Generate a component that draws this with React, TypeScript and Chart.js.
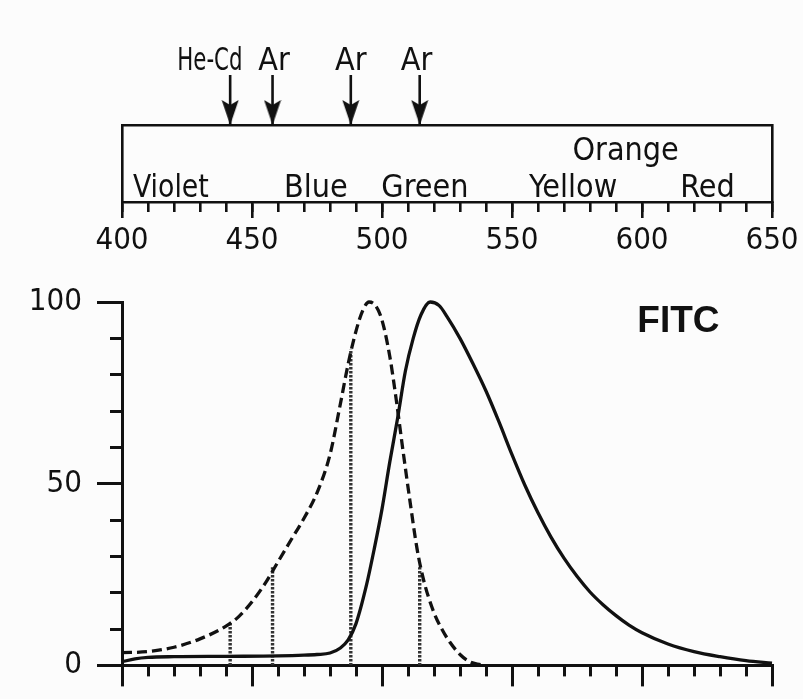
import React, { useEffect, useRef } from "react";
import { Chart, registerables } from "chart.js";

Chart.register(...registerables);

// ---------- data ----------
const wavelengthMin = 400;
const wavelengthMax = 650;
const majorWavelengthTicks = [400, 450, 500, 550, 600, 650];
const minorWavelengthTicks = [
  400, 410, 420, 430, 440, 450, 460, 470, 480, 490, 500, 510, 520, 530, 540,
  550, 560, 570, 580, 590, 600, 610, 620, 630, 640, 650,
];
const intensityMajorTicks = [0, 50, 100];
const intensityMinorTicks = [0, 10, 20, 30, 40, 50, 60, 70, 80, 90, 100];

const excitationWavelengths = [
  400, 410, 420, 430, 440, 445, 450, 455, 460, 465, 470, 475, 480, 484, 487,
  490, 492.5, 495, 497.5, 500, 503, 505.5, 508, 511, 513.5, 516, 520, 523, 526,
  530, 534, 538,
];
const excitationValues = [
  3.5, 3.8, 5, 7.3, 10.8, 13.5, 17.5, 22.5, 28.5, 34.5, 40.5, 47.5, 58, 72, 83,
  92, 97.5, 100, 99, 95, 85, 73, 59.5, 44, 32, 23.5, 14.5, 10, 6.5, 3, 0.9, 0.2,
];

const emissionWavelengths = [
  400, 405, 410, 420, 440, 460, 470, 475, 480, 484, 487, 490, 494, 497, 500,
  503, 506, 509, 512, 515, 518.5, 522, 525, 530, 535, 540, 545, 550, 555, 560,
  565, 570, 575, 580, 585, 590, 595, 600, 610, 620, 630, 640, 650,
];
const emissionValues = [
  1, 1.8, 2.2, 2.4, 2.5, 2.6, 2.8, 3, 3.4, 4.8, 7, 11.5, 22, 32, 43, 56, 68, 81,
  90, 96.5, 100, 99, 96, 90, 83, 75.5, 67, 58, 49.5, 42, 35.3, 29.5, 24.5, 20.2,
  16.7, 13.7, 11.1, 9, 5.9, 3.8, 2.4, 1.3, 0.6,
];

const laserNames = ["He-Cd", "Ar", "Ar", "Ar"];
const laserWavelengths = [441.6, 457.9, 488, 514.5];
const laserLabelWavelengths = [433.8, 458.5, 488, 513.3];
const laserExcitationLevels = [11.5, 27, 87, 27];

const colorNames = ["Violet", "Blue", "Green", "Yellow", "Orange", "Red"];
const colorLabelWavelengths = [418.8, 474.6, 516.5, 573.5, 593.7, 625.2];
const colorLabelLevels = [0.065, 0.065, 0.065, 0.065, 0.545, 0.065];

const dyeName = "FITC";
const dyeLabelWavelength = 614;
const dyeLabelIntensity = 94.6;

// ---------- style ----------
const INK = "#111111";
const DOT_INK = "#333333";
const BG = "#fcfcfc";
const NARROW =
  "'DejaVu Sans Condensed', 'Liberation Sans Narrow', 'Arial Narrow', 'Liberation Sans', sans-serif";
const BOLD_FAMILY = "'Liberation Sans', Arial, Helvetica, sans-serif";
const ARROW_TOP_LEVEL = 1.65;
const LASER_LABEL_LEVEL = 1.714;
const laserLabelScaleX = [0.74, 1, 1, 1];
const colorLabelScaleX = [0.93, 1, 1, 1, 1, 1];

function makeArrowHead(): HTMLCanvasElement {
  const c = document.createElement("canvas");
  c.width = 18;
  c.height = 50;
  const g = c.getContext("2d")!;
  g.fillStyle = INK;
  g.beginPath();
  g.moveTo(0.5, 0);
  g.lineTo(9, 5);
  g.lineTo(17.5, 0);
  g.lineTo(9, 25);
  g.closePath();
  g.fill();
  return c;
}

function fixedTicks(values: number[]) {
  return (axis: any) => {
    axis.ticks = values.map((v) => ({ value: v }));
  };
}

export default function App() {
  const topRef = useRef<HTMLCanvasElement>(null);
  const bottomRef = useRef<HTMLCanvasElement>(null);

  useEffect(() => {
    const arrowHead = makeArrowHead();

    const drawScaledText = (
      ctx: CanvasRenderingContext2D,
      text: string,
      x: number,
      y: number,
      sx: number
    ) => {
      ctx.save();
      ctx.translate(x, y);
      ctx.scale(sx, 1);
      ctx.fillText(text, 0, 0);
      ctx.restore();
    };

    const topLabels = {
      id: "topLabels",
      afterDatasetsDraw(chart: any) {
        const { ctx, scales } = chart;
        const xs = scales.x;
        const ys = scales.y;
        ctx.save();
        ctx.fillStyle = INK;
        ctx.textAlign = "center";
        ctx.textBaseline = "alphabetic";
        ctx.font = `32px ${NARROW}`;
        laserNames.forEach((name, i) => {
          drawScaledText(
            ctx,
            name,
            xs.getPixelForValue(laserLabelWavelengths[i]),
            ys.getPixelForValue(LASER_LABEL_LEVEL),
            laserLabelScaleX[i]
          );
        });
        colorNames.forEach((name, i) => {
          drawScaledText(
            ctx,
            name,
            xs.getPixelForValue(colorLabelWavelengths[i]),
            ys.getPixelForValue(colorLabelLevels[i]),
            colorLabelScaleX[i]
          );
        });
        ctx.restore();
      },
    };

    const dyeLabel = {
      id: "dyeLabel",
      afterDatasetsDraw(chart: any) {
        const { ctx, scales } = chart;
        ctx.save();
        ctx.fillStyle = INK;
        ctx.textAlign = "center";
        ctx.textBaseline = "middle";
        ctx.font = `bold 37px ${BOLD_FAMILY}`;
        ctx.fillText(
          dyeName,
          scales.x.getPixelForValue(dyeLabelWavelength),
          scales.y.getPixelForValue(dyeLabelIntensity)
        );
        ctx.restore();
      },
    };

    const borderOnly = (pos: string, size: "w" | "h", min: number, max: number) => ({
      type: "linear",
      position: pos,
      min,
      max,
      ticks: { display: false },
      grid: { display: false, drawTicks: false },
      border: { display: true, color: INK, width: 2.6 },
      afterFit: (s: any) => {
        if (size === "w") s.width = 0;
        else s.height = 0;
      },
    });

    const tickGrid = (len: number, width: number) => ({
      display: true,
      drawOnChartArea: false,
      drawTicks: true,
      tickLength: len,
      color: INK,
      lineWidth: width,
    });

    const topChart = new Chart(topRef.current!, {
      type: "line",
      data: {
        datasets: laserWavelengths.map((wl) => ({
          data: [
            { x: wl, y: ARROW_TOP_LEVEL },
            { x: wl, y: 1 },
          ],
          borderColor: INK,
          backgroundColor: INK,
          borderWidth: 2.6,
          pointRadius: [0, 6],
          pointStyle: arrowHead,
          clip: false,
        })),
      } as any,
      options: {
        responsive: false,
        animation: false,
        events: [],
        layout: { padding: { top: 125, left: 122, right: 31, bottom: 8 } },
        plugins: { legend: { display: false }, tooltip: { enabled: false } },
        scales: {
          x: {
            type: "linear",
            position: "bottom",
            weight: 1,
            min: wavelengthMin,
            max: wavelengthMax,
            afterBuildTicks: fixedTicks(majorWavelengthTicks),
            afterFit: (s: any) => {
              s.height = 60;
            },
            ticks: {
              color: INK,
              font: { family: NARROW, size: 31 },
              padding: 4,
              autoSkip: false,
              maxRotation: 0,
            },
            grid: tickGrid(16, 2.6),
            border: { display: true, color: INK, width: 2.6 },
          },
          xMinor: {
            type: "linear",
            position: "bottom",
            weight: 0,
            min: wavelengthMin,
            max: wavelengthMax,
            afterBuildTicks: fixedTicks(minorWavelengthTicks),
            afterFit: (s: any) => {
              s.height = 0;
            },
            ticks: { display: false },
            grid: tickGrid(10, 2.6),
            border: { display: false },
          },
          xTop: borderOnly("top", "h", wavelengthMin, wavelengthMax),
          y: borderOnly("left", "w", 0, 1),
          yRight: borderOnly("right", "w", 0, 1),
        },
      } as any,
      plugins: [topLabels],
    });

    const spectrumStyle = {
      borderColor: INK,
      borderWidth: 3.3,
      pointRadius: 0,
      cubicInterpolationMode: "monotone",
      fill: false,
      clip: 6,
    };

    const bottomChart = new Chart(bottomRef.current!, {
      type: "line",
      data: {
        datasets: [
          {
            label: "Excitation",
            data: excitationWavelengths.map((x, i) => ({ x, y: excitationValues[i] })),
            ...spectrumStyle,
            borderDash: [10, 5],
          },
          {
            label: "Emission",
            data: emissionWavelengths.map((x, i) => ({ x, y: emissionValues[i] })),
            ...spectrumStyle,
          },
          ...laserWavelengths.map((wl, i) => ({
            label: laserNames[i],
            data: [
              { x: wl, y: 0 },
              { x: wl, y: laserExcitationLevels[i] },
            ],
            borderColor: DOT_INK,
            borderWidth: 3.4,
            borderDash: [2.5, 1.5],
            pointRadius: 0,
          })),
        ],
      } as any,
      options: {
        responsive: false,
        animation: false,
        events: [],
        layout: { padding: { top: 42, left: 0, right: 31, bottom: 0 } },
        plugins: { legend: { display: false }, tooltip: { enabled: false } },
        scales: {
          x: {
            type: "linear",
            position: "bottom",
            weight: 1,
            min: wavelengthMin,
            max: wavelengthMax,
            afterBuildTicks: fixedTicks(majorWavelengthTicks),
            afterFit: (s: any) => {
              s.height = 28;
            },
            ticks: { display: false },
            grid: tickGrid(21, 3),
            border: { display: true, color: INK, width: 3 },
          },
          xMinor: {
            type: "linear",
            position: "bottom",
            weight: 0,
            min: wavelengthMin,
            max: wavelengthMax,
            afterBuildTicks: fixedTicks(minorWavelengthTicks),
            afterFit: (s: any) => {
              s.height = 0;
            },
            ticks: { display: false },
            grid: tickGrid(11, 3),
            border: { display: false },
          },
          y: {
            type: "linear",
            position: "left",
            weight: 1,
            min: 0,
            max: 100,
            afterBuildTicks: fixedTicks(intensityMajorTicks),
            afterFit: (s: any) => {
              s.width = 122;
            },
            ticks: {
              color: INK,
              font: { family: NARROW, size: 31 },
              padding: 15,
              autoSkip: false,
            },
            grid: tickGrid(25, 3),
            border: { display: true, color: INK, width: 3 },
          },
          yMinor: {
            type: "linear",
            position: "left",
            weight: 0,
            min: 0,
            max: 100,
            afterBuildTicks: fixedTicks(intensityMinorTicks),
            afterFit: (s: any) => {
              s.width = 0;
            },
            ticks: { display: false },
            grid: tickGrid(12, 3),
            border: { display: false },
          },
        },
      } as any,
      plugins: [dyeLabel],
    });

    return () => {
      topChart.destroy();
      bottomChart.destroy();
    };
  }, []);

  return (
    <div
      style={{
        position: "absolute",
        left: 0,
        top: 0,
        width: 803,
        height: 699,
        background: BG,
        overflow: "hidden",
      }}
    >
      <canvas
        ref={topRef}
        width={803}
        height={270}
        style={{ position: "absolute", left: 0, top: 0, width: 803, height: 270 }}
      />
      <canvas
        ref={bottomRef}
        width={803}
        height={439}
        style={{ position: "absolute", left: 0, top: 260, width: 803, height: 439 }}
      />
    </div>
  );
}
